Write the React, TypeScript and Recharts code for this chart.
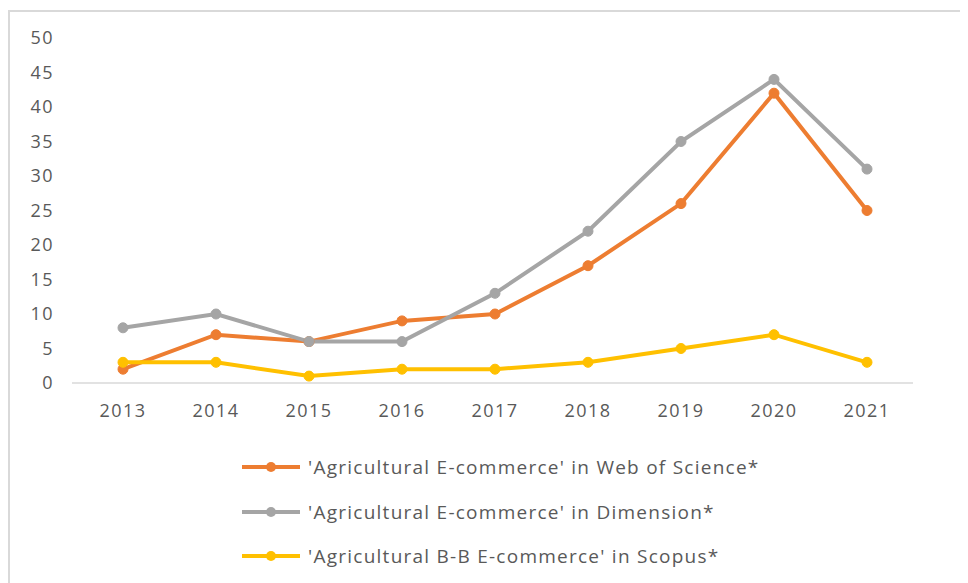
import React from "react";
import { LineChart, Line, XAxis, YAxis } from "recharts";

const years = ["2013", "2014", "2015", "2016", "2017", "2018", "2019", "2020", "2021"];
const webOfScience = [2, 7, 6, 9, 10, 17, 26, 42, 25];
const dimension = [8, 10, 6, 6, 13, 22, 35, 44, 31];
const scopus = [3, 3, 1, 2, 2, 3, 5, 7, 3];
const yTicks = [0, 5, 10, 15, 20, 25, 30, 35, 40, 45, 50];

const seriesNames = [
  "'Agricultural E-commerce' in Web of Science*",
  "'Agricultural E-commerce' in Dimension*",
  "'Agricultural B-B E-commerce' in Scopus*",
];
const seriesKeys = ["wos", "dim", "scopus"];
const seriesColors = ["#ED7D31", "#A5A5A5", "#FFC000"];

const data = years.map((y, i) => ({
  year: y,
  wos: webOfScience[i],
  dim: dimension[i],
  scopus: scopus[i],
}));

const FONT = "'Open Sans', sans-serif";
const TEXT = "#595959";

export default function App() {
  return (
    <div style={{ position: "relative", width: 960, height: 575, fontFamily: FONT }}>
      <div
        style={{
          position: "absolute",
          left: 0,
          top: 2,
          width: 960,
          height: 573,
          borderTop: "2px solid #d9d9d9",
          borderLeft: "2px solid #d9d9d9",
          boxSizing: "border-box",
        }}
      />
      <div style={{ position: "absolute", left: 0, top: 0 }}>
        <LineChart
          width={960}
          height={575}
          data={data}
          margin={{ top: 30, right: 55, bottom: 170, left: 0 }}
        >
          <XAxis
            dataKey="year"
            axisLine={{ stroke: "#d9d9d9", strokeWidth: 1.5 }}
            tickLine={false}
            tickSize={0}
            tickMargin={21}
            height={30}
            padding={{ left: 51, right: 46 }}
            tick={{ fill: TEXT, fontSize: 18, fontFamily: FONT, letterSpacing: 1.5 }}
            interval={0}
          />
          <YAxis
            domain={[0, 50]}
            ticks={yTicks}
            axisLine={false}
            tickLine={false}
            tickSize={0}
            tickMargin={18}
            width={64}
            interval={0}
            tick={{ fill: TEXT, fontSize: 18, fontFamily: FONT, letterSpacing: 1.5 }}
          />
          {seriesKeys.map((k, i) => (
            <Line
              key={k}
              type="linear"
              dataKey={k}
              name={seriesNames[i]}
              stroke={seriesColors[i]}
              strokeWidth={4}
              dot={{ r: 5, fill: seriesColors[i], stroke: seriesColors[i], strokeWidth: 1 }}
              isAnimationActive={false}
            />
          ))}
        </LineChart>
      </div>
      <div style={{ position: "absolute", left: 234, top: 437 }}>
        {seriesNames.map((name, i) => (
          <div
            key={name}
            style={{
              display: "flex",
              alignItems: "center",
              height: 44.5,
              color: TEXT,
              fontSize: 19,
              letterSpacing: 1.25,
              whiteSpace: "nowrap",
            }}
          >
            <svg width={60} height={14} style={{ marginRight: 6 }}>
              <line x1={0} y1={7} x2={58} y2={7} stroke={seriesColors[i]} strokeWidth={4} />
              <circle cx={29} cy={7} r={5} fill={seriesColors[i]} />
            </svg>
            <span>{name}</span>
          </div>
        ))}
      </div>
    </div>
  );
}
